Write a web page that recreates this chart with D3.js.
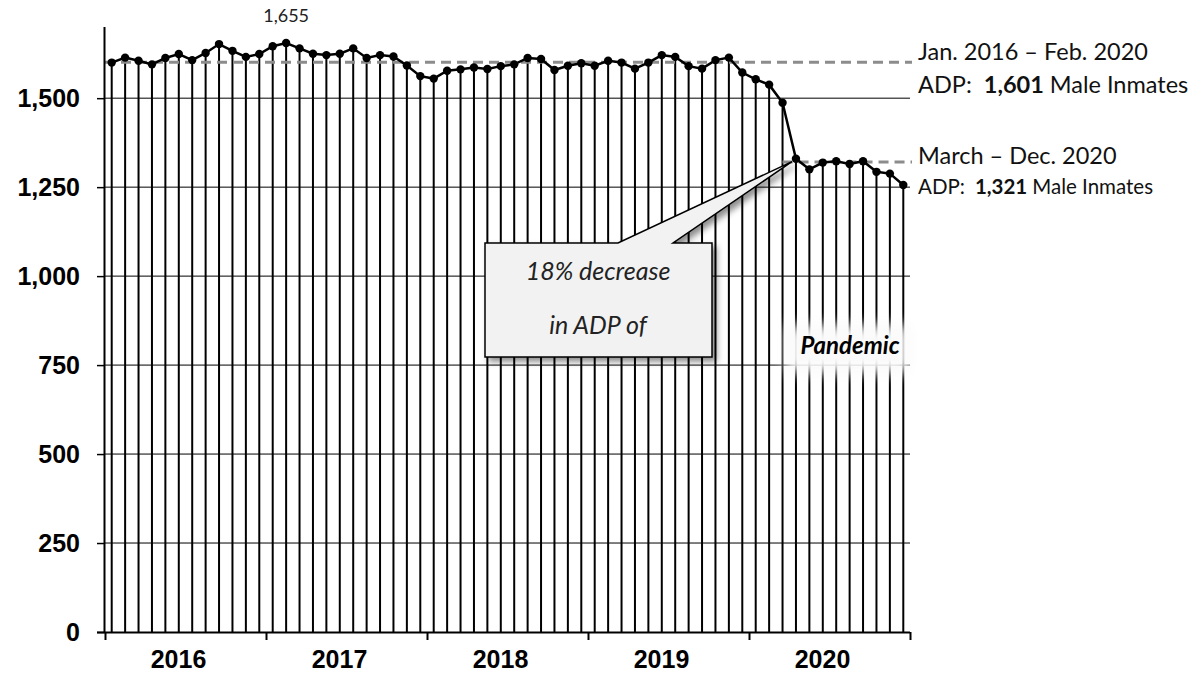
<!DOCTYPE html>
<html>
<head>
<meta charset="utf-8">
<script src="https://cdn.jsdelivr.net/npm/d3@7"></script>
<style>
  body { margin: 0; background: #fff; }
  svg { display: block; }
</style>
</head>
<body>
<div id="chart"></div>
<script>
// monthly ADP of male inmates, Jan 2016 - Dec 2020
const years = [2016, 2017, 2018, 2019, 2020];
const adp = [
  1600, 1614, 1605, 1595, 1613, 1624, 1607, 1627, 1652, 1633, 1616, 1624,
  1646, 1655, 1640, 1625, 1621, 1625, 1640, 1613, 1621, 1617, 1592, 1562,
  1555, 1577, 1581, 1586, 1582, 1590, 1595, 1613, 1610, 1579, 1591, 1598,
  1591, 1605, 1600, 1583, 1600, 1621, 1616, 1590, 1583, 1607, 1614, 1572,
  1553, 1538, 1487, 1330, 1300, 1319, 1323, 1315, 1323, 1293, 1288, 1256
];
const yTicks = [0, 250, 500, 750, 1000, 1250, 1500];
const avgBefore = 1601;   // Jan 2016 - Feb 2020
const avgAfter = 1321;    // Mar - Dec 2020
const peakIndex = 13;
const pandemicStart = 50; // March 2020

const W = 1198, H = 676;
const plotLeft = 105, plotRight = 910, plotTop = 27, plotBottom = 632;

const svg = d3.select('#chart').append('svg')
    .attr('width', W)
    .attr('height', H);

const defs = svg.append('defs');
defs.append('filter').attr('id', 'shadow')
    .attr('x', '-20%').attr('y', '-20%').attr('width', '140%').attr('height', '150%')
  .append('feDropShadow')
    .attr('dx', 4).attr('dy', 4).attr('stdDeviation', 3)
    .attr('flood-color', '#000').attr('flood-opacity', 0.45);
defs.append('filter').attr('id', 'glow')
    .attr('x', '-40%').attr('y', '-60%').attr('width', '180%').attr('height', '220%')
  .append('feGaussianBlur').attr('stdDeviation', 7);

const x = d3.scaleLinear().domain([0, adp.length]).range([plotLeft, plotRight]);
const y = d3.scaleLinear().domain([0, 1700]).range([plotBottom, plotTop]);
const cx = (d, i) => x(i + 0.5);

// horizontal gridlines
svg.append('g').selectAll('line')
    .data(yTicks.filter(d => d > 0))
    .enter().append('line')
    .attr('x1', plotLeft).attr('x2', plotRight)
    .attr('y1', d => y(d)).attr('y2', d => y(d))
    .attr('stroke', '#000').attr('stroke-width', 1);

// drop lines
svg.append('g').selectAll('line')
    .data(adp)
    .enter().append('line')
    .attr('x1', cx).attr('x2', cx)
    .attr('y1', y(0)).attr('y2', d => y(d))
    .attr('stroke', '#000').attr('stroke-width', 2);

// average lines
svg.append('line')
    .attr('x1', plotLeft).attr('x2', plotRight + 2)
    .attr('y1', y(avgBefore)).attr('y2', y(avgBefore))
    .attr('stroke', '#8c8c8c').attr('stroke-width', 3)
    .attr('stroke-dasharray', '10,6');
svg.append('line')
    .attr('x1', x(pandemicStart + 0.5)).attr('x2', plotRight + 2)
    .attr('y1', y(avgAfter)).attr('y2', y(avgAfter))
    .attr('stroke', '#8c8c8c').attr('stroke-width', 3)
    .attr('stroke-dasharray', '10,6');

// series line + markers
svg.append('path')
    .datum(adp)
    .attr('fill', 'none')
    .attr('stroke', '#000')
    .attr('stroke-width', 2.5)
    .attr('d', d3.line().x(cx).y(d => y(d)));
svg.append('g').selectAll('circle')
    .data(adp)
    .enter().append('circle')
    .attr('cx', cx).attr('cy', d => y(d))
    .attr('r', 4.2)
    .attr('fill', '#000');

// axes
const yAxis = d3.axisLeft(y).tickValues(yTicks).tickSize(8).tickFormat('');
const yg = svg.append('g').attr('transform', `translate(${plotLeft},0)`).call(yAxis);
yg.select('.domain').attr('d', `M-0.5,${plotTop}V${plotBottom}`).attr('stroke-width', 2);
yg.selectAll('.tick line').attr('stroke-width', 1.5);

const xAxis = d3.axisBottom(x).tickValues(d3.range(0, adp.length + 1, 12)).tickSize(8).tickFormat('');
const xg = svg.append('g').attr('transform', `translate(0,${plotBottom})`).call(xAxis);
xg.select('.domain').attr('d', `M${plotLeft - 8},0.5H${plotRight}`).attr('stroke-width', 2);
xg.selectAll('.tick line').attr('stroke-width', 2);

svg.append('g').selectAll('text')
    .data(yTicks)
    .enter().append('text')
    .attr('x', 80)
    .attr('y', d => y(d) + 8.5)
    .attr('text-anchor', 'end')
    .attr('font-family', 'Liberation Sans, Arial, sans-serif')
    .attr('font-weight', 'bold')
    .attr('font-size', 25)
    .text(d => d3.format(',')(d));

svg.append('g').selectAll('text')
    .data(years)
    .enter().append('text')
    .attr('x', (d, i) => x(i * 12 + 6) - 7)
    .attr('y', 668)
    .attr('text-anchor', 'middle')
    .attr('font-family', 'Liberation Sans, Arial, sans-serif')
    .attr('font-weight', 'bold')
    .attr('font-size', 25)
    .text(d => d);

const labelFont = 'Lato, Carlito, Calibri, sans-serif';

// peak label
svg.append('text')
    .attr('x', cx(adp[peakIndex], peakIndex))
    .attr('y', 22)
    .attr('text-anchor', 'middle')
    .attr('font-family', labelFont)
    .attr('font-size', 18)
    .attr('fill', '#222')
    .text(d3.format(',')(adp[peakIndex]));

// right annotations
const ann = svg.append('g').attr('font-family', labelFont).attr('fill', '#111');
ann.append('text').attr('x', 918).attr('y', 60).attr('font-size', 23.5)
    .text('Jan. 2016 – Feb. 2020');
const t2 = ann.append('text').attr('x', 918).attr('y', 93).attr('font-size', 23.5);
t2.append('tspan').text('ADP:');
t2.append('tspan').attr('dx', 12).attr('font-weight', 'bold').text(d3.format(',')(avgBefore));
t2.append('tspan').attr('dx', 6).text('Male Inmates');
ann.append('text').attr('x', 918).attr('y', 164).attr('font-size', 23.5)
    .text('March – Dec. 2020');
const t4 = ann.append('text').attr('x', 918).attr('y', 194).attr('font-size', 20.5);
t4.append('tspan').text('ADP:');
t4.append('tspan').attr('dx', 10).attr('font-weight', 'bold').text(d3.format(',')(avgAfter));
t4.append('tspan').attr('dx', 5).text('Male Inmates');

// callout
const tipX = cx(adp[51], 51) - 4, tipY = y(adp[51]) + 3;
svg.append('path')
    .attr('d', `M485,243 L618,243 L${tipX},${tipY} L673,243 L712,243 L712,357 L485,357 Z`)
    .attr('fill', '#f2f2f2')
    .attr('stroke', '#000')
    .attr('stroke-width', 1.5)
    .attr('filter', 'url(#shadow)');
const call = svg.append('g')
    .attr('font-family', labelFont)
    .attr('font-style', 'italic')
    .attr('font-size', 25)
    .attr('text-anchor', 'middle')
    .attr('fill', '#222');
call.append('text').attr('x', 598).attr('y', 280).text('18% decrease');
call.append('text').attr('x', 598).attr('y', 334).text('in ADP of');

// pandemic label
svg.append('rect')
    .attr('x', 786).attr('y', 325).attr('width', 124).attr('height', 48)
    .attr('fill', '#fafafa')
    .attr('filter', 'url(#glow)');
svg.append('text')
    .attr('x', 850).attr('y', 354)
    .attr('text-anchor', 'middle')
    .attr('font-family', labelFont)
    .attr('font-style', 'italic')
    .attr('font-weight', 'bold')
    .attr('font-size', 24)
    .text('Pandemic');
</script>
</body>
</html>
